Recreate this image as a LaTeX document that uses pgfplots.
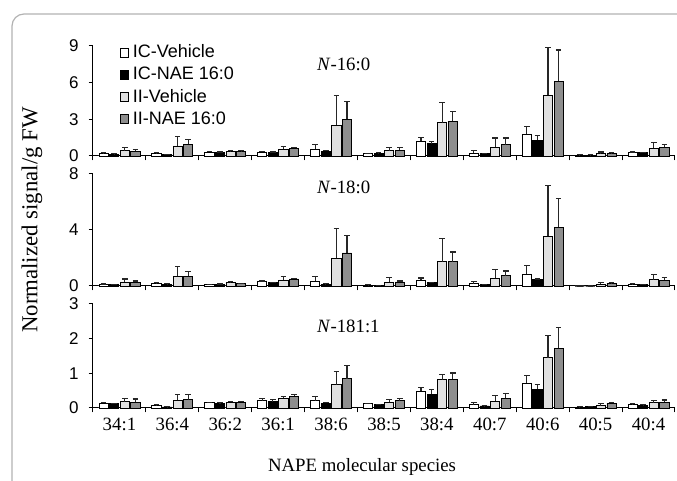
\documentclass[border=0pt]{standalone}
\usepackage{fontspec}
\setmainfont{Liberation Serif}
\setsansfont{Liberation Sans}
\usepackage{pgfplots}
\usepackage{pgfplotstable}
\pgfplotsset{compat=1.18}

\definecolor{lgr}{HTML}{E0E0E0}
\definecolor{dgr}{HTML}{8E8E8E}

\pgfplotstableread{
x w we b be lg lge dg dge
0  0.20 0.05 0.15 0.03 0.43 0.25 0.38 0.16
1  0.20 0.05 0.13 0.02 0.82 0.81 0.95 0.41
2  0.33 0.05 0.30 0.03 0.38 0.04 0.40 0.04
3  0.33 0.07 0.30 0.03 0.57 0.19 0.62 0.08
4  0.57 0.38 0.40 0.05 2.53 2.39 3.02 1.44
5  0.18 0.05 0.22 0.03 0.43 0.27 0.49 0.19
6  1.22 0.30 1.00 0.22 2.74 1.61 2.83 0.84
7  0.24 0.22 0.19 0.03 0.73 0.74 0.92 0.55
8  1.77 0.65 1.30 0.38 4.97 3.89 6.11 2.56
9  0.08 0.02 0.08 0.02 0.19 0.14 0.19 0.08
10 0.27 0.06 0.27 0.03 0.65 0.44 0.71 0.21
}\tabA

\pgfplotstableread{
x w we b be lg lge dg dge
0  0.12 0.02 0.12 0.01 0.29 0.21 0.26 0.10
1  0.19 0.03 0.14 0.02 0.69 0.72 0.69 0.34
2  0.10 0.02 0.12 0.02 0.26 0.04 0.17 0.03
3  0.31 0.05 0.24 0.03 0.43 0.26 0.50 0.05
4  0.33 0.36 0.14 0.02 1.98 2.10 2.36 1.24
5  0.07 0.02 0.05 0.01 0.29 0.31 0.29 0.07
6  0.41 0.16 0.26 0.02 1.74 1.65 1.74 0.69
7  0.17 0.14 0.10 0.02 0.55 0.62 0.74 0.33
8  0.84 0.64 0.48 0.02 3.56 3.60 4.20 2.08
9  0.00 0.00 0.00 0.00 0.14 0.10 0.19 0.03
10 0.12 0.05 0.12 0.01 0.45 0.36 0.41 0.21
}\tabB

\pgfplotstableread{
x w we b be lg lge dg dge
0  0.14 0.02 0.12 0.01 0.18 0.09 0.16 0.10
1  0.07 0.02 0.03 0.01 0.22 0.16 0.24 0.15
2  0.15 0.02 0.13 0.02 0.17 0.02 0.16 0.03
3  0.21 0.06 0.18 0.07 0.29 0.05 0.34 0.05
4  0.21 0.11 0.13 0.04 0.67 0.38 0.85 0.38
5  0.13 0.01 0.10 0.01 0.17 0.08 0.21 0.06
6  0.49 0.09 0.39 0.14 0.82 0.15 0.83 0.18
7  0.10 0.07 0.06 0.01 0.20 0.17 0.28 0.15
8  0.72 0.21 0.54 0.15 1.45 0.63 1.72 0.60
9  0.03 0.01 0.04 0.01 0.07 0.06 0.13 0.04
10 0.10 0.04 0.08 0.02 0.15 0.07 0.16 0.07
}\tabC

\pgfplotsset{
  panel/.style={
    scale only axis, width=291pt,
    xmin=-0.5, xmax=10.5, ymin=0,
    axis x line*=bottom, axis y line*=left,
    axis line style={line width=0.5pt, black},
    ybar=0.7pt, bar width=4.6pt,
    tick align=outside,
    xtick={-0.5,0.5,...,10.5}, xticklabels={},
    major tick length=2.2pt,
    tick style={line width=0.5pt, black},
    /pgf/number format/assume math mode=true,
    yticklabel style={font=\sffamily\fontsize{8.5}{10}\selectfont, xshift=-1.5pt},
    clip=false,
    every axis plot/.append style={draw=black, line width=0.4pt},
    error bars/y dir=plus, error bars/y explicit,
    error bars/error bar style={line width=0.55pt, black!85},
    error bars/error mark options={rotate=90, mark size=1.4pt, line width=0.55pt, black!85},
  },
}

\begin{document}
\begin{tikzpicture}[x=1pt,y=1pt]
\useasboundingbox (0,0) rectangle (338.5,240.5);
\draw[black!30, line width=0.6pt, rounded corners=6pt] (6,-20) rectangle (360,233.5);

% Panel 1
\begin{axis}[panel, at={(46.5pt,162.5pt)}, anchor=south west, height=55pt,
  ymax=9, ytick={0,3,6,9},
  legend style={at={(0.045,1.03)}, anchor=north west, draw=none, fill=none,
    font=\sffamily\fontsize{9}{10.5}\selectfont, row sep=1.6pt, inner sep=0pt,
    nodes={inner sep=0.8pt}},
  legend cell align=left,
  legend image code/.code={\draw[#1, line width=0.4pt, draw=black] (0pt,-2.1pt) rectangle (4.2pt,2.3pt);},
]
\addplot[fill=white] table[x=x, y=w, y error=we] {\tabA};
\addplot[fill=black] table[x=x, y=b, y error=be] {\tabA};
\addplot[fill=lgr] table[x=x, y=lg, y error=lge] {\tabA};
\addplot[fill=dgr] table[x=x, y=dg, y error=dge] {\tabA};
\legend{\hspace{1.2pt}IC-Vehicle, \hspace{1.2pt}IC-NAE 16:0, \hspace{1.2pt}II-Vehicle, \hspace{1.2pt}II-NAE 16:0}
\node[anchor=west, font=\fontsize{9.4}{11}\selectfont] at (rel axis cs:0.373,0.83) {\textit{N}-16:0};
\end{axis}

% Panel 2
\begin{axis}[panel, at={(46.5pt,97.5pt)}, anchor=south west, height=56pt,
  ymax=8, ytick={0,4,8}]
\addplot[fill=white] table[x=x, y=w, y error=we] {\tabB};
\addplot[fill=black] table[x=x, y=b, y error=be] {\tabB};
\addplot[fill=lgr] table[x=x, y=lg, y error=lge] {\tabB};
\addplot[fill=dgr] table[x=x, y=dg, y error=dge] {\tabB};
\node[anchor=west, font=\fontsize{9.4}{11}\selectfont] at (rel axis cs:0.373,0.88) {\textit{N}-18:0};
\end{axis}

% Panel 3
\begin{axis}[panel, at={(46.5pt,36.5pt)}, anchor=south west, height=52pt,
  ymax=3, ytick={0,1,2,3},
  extra x ticks={0,1,...,10},
  extra x tick labels={34:1,36:4,36:2,36:1,38:6,38:5,38:4,40:7,40:6,40:5,40:4},
  extra x tick style={major tick length=0pt,
    xticklabel style={font=\fontsize{9.4}{11}\selectfont, yshift=-1.5pt}},
]
\addplot[fill=white] table[x=x, y=w, y error=we] {\tabC};
\addplot[fill=black] table[x=x, y=b, y error=be] {\tabC};
\addplot[fill=lgr] table[x=x, y=lg, y error=lge] {\tabC};
\addplot[fill=dgr] table[x=x, y=dg, y error=dge] {\tabC};
\node[anchor=west, font=\fontsize{9.4}{11}\selectfont] at (rel axis cs:0.373,0.78) {\textit{N}-181:1};
\end{axis}

\node[anchor=base, rotate=90, font=\fontsize{11.4}{13}\selectfont] at (18.75,130.5) {Normalized signal/g FW};
\node[anchor=base, font=\fontsize{9.4}{11}\selectfont] at (181,4.5) {NAPE molecular species};
\end{tikzpicture}
\end{document}
